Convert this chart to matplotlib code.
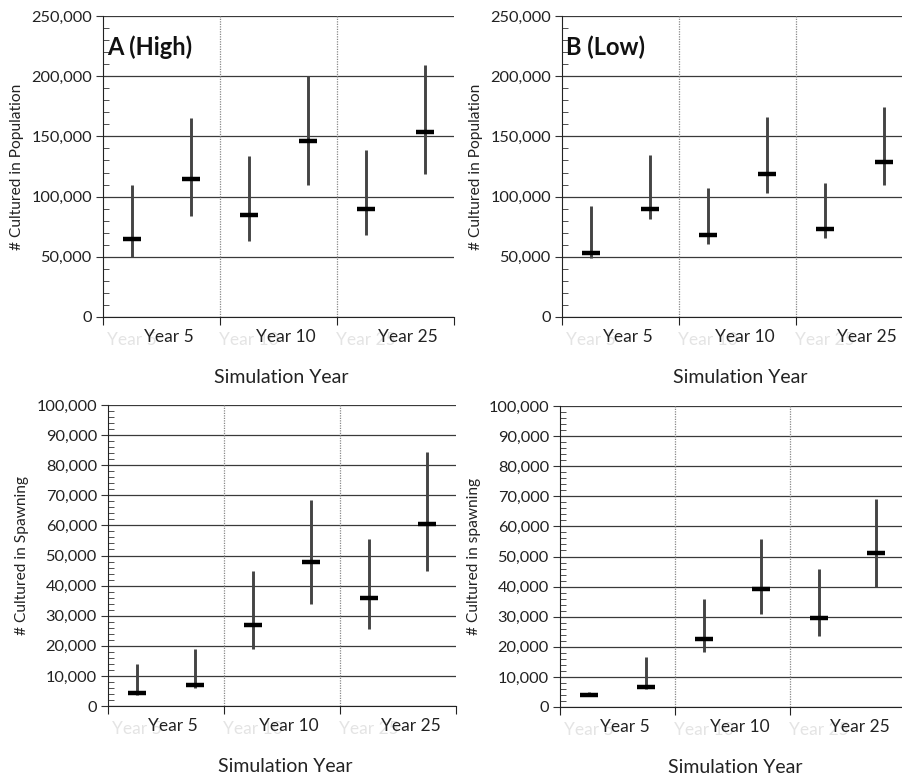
import matplotlib
matplotlib.use("Agg")
import matplotlib.pyplot as plt
from matplotlib.ticker import MultipleLocator, FuncFormatter
import matplotlib.transforms as mtransforms

plt.rcParams['font.family'] = ['Lato', 'DejaVu Sans']

groups = ["Year 5", "Year 10", "Year 25"]

# Population, high scenario (low / median / high)
pop_high_lo = [50000, 84000, 63000, 110000, 68000, 119000]
pop_high_med = [65000, 115000, 84500, 146500, 90000, 153500]
pop_high_hi = [110000, 165000, 134000, 200000, 138500, 209500]

# Population, low scenario
pop_low_lo = [49000, 81500, 60500, 103000, 65300, 110000]
pop_low_med = [53000, 90000, 68000, 119000, 73500, 128500]
pop_low_hi = [92000, 134500, 107500, 166000, 111500, 174500]

# Spawning, high scenario
spw_high_lo = [3800, 6100, 19000, 34000, 25700, 45000]
spw_high_med = [4200, 7000, 27000, 47700, 36000, 60400]
spw_high_hi = [14000, 18800, 45000, 68500, 55500, 84500]

# Spawning, low scenario
spw_low_lo = [3500, 6000, 18300, 31000, 23500, 40000]
spw_low_med = [4000, 6800, 22600, 39200, 29700, 51000]
spw_low_hi = [4900, 16500, 35800, 55700, 46000, 69000]

W, H = 902, 776
fig = plt.figure(figsize=(W / 100, H / 100), dpi=100)


def px_axes(left, top, right, bottom):
    return fig.add_axes([left / W, 1 - bottom / H, (right - left) / W, (bottom - top) / H])


def panel(ax, lo, med, hi, ymax, major, minor, ylabel, tag=None):
    x = list(range(len(med)))
    ax.set_xlim(-0.5, 5.5)
    ax.set_ylim(0, ymax)
    ax.yaxis.set_major_locator(MultipleLocator(major))
    ax.yaxis.set_minor_locator(MultipleLocator(minor))
    ax.yaxis.set_major_formatter(FuncFormatter(lambda v, p: f"{int(v):,}"))
    ax.grid(axis='y', which='major', color='#3a3a3a', lw=0.9)
    ax.set_axisbelow(True)
    for s in ('top', 'right'):
        ax.spines[s].set_visible(False)
    ax.spines['left'].set_color('#222222')
    ax.spines['bottom'].set_color('#222222')
    ax.tick_params(axis='y', which='major', direction='out', length=5, labelsize=11.8,
                   color='#333333', labelcolor='#222222', pad=3)
    ax.tick_params(axis='y', which='minor', direction='in', length=4, color='#333333')
    ax.set_xticks([-0.5, 1.5, 3.5, 5.5])
    ax.set_xticklabels([])
    ax.tick_params(axis='x', direction='out', length=6, color='#222222')
    for b in (1.5, 3.5):
        ax.axvline(b, color='#888888', lw=0.9, ls=(0, (1, 1)))
    ax.vlines(x, lo, hi, color='#444444', lw=2.1, zorder=3)
    ax.hlines(med, [v - 0.155 for v in x], [v + 0.155 for v in x], color='black', lw=3.2, zorder=4)
    ax.set_ylabel(ylabel, fontsize=11.2, color='#222222', labelpad=5)
    trans = mtransforms.blended_transform_factory(ax.transData, ax.transAxes)
    for i, g in enumerate(groups):
        ax.text(2 * i, -0.078, g, transform=trans, ha='center', va='center',
                fontsize=12.5, color='#e4e4e4', zorder=1)
        ax.text(2 * i + 0.62 + (0.1 if i == 2 else 0), -0.068, g, transform=trans,
                ha='center', va='center', fontsize=12.5, color='#222222', zorder=2)
    ax.text(2.55, -0.2, "Simulation Year", transform=trans, ha='center', va='center',
            fontsize=14, color='#222222')
    if tag:
        ax.text(0.012, 0.895, tag, transform=ax.transAxes, ha='left', va='center',
                fontsize=17, fontweight='bold', color='#111111')


axA = px_axes(103, 16, 454, 317)
panel(axA, pop_high_lo, pop_high_med, pop_high_hi, 250000, 50000, 10000,
      "# Cultured in Population", "A (High)")

axB = px_axes(562, 16, 913, 317)
panel(axB, pop_low_lo, pop_low_med, pop_low_hi, 250000, 50000, 10000,
      "# Cultured in Population", "B (Low)")

axC = px_axes(108, 405, 456, 706)
panel(axC, spw_high_lo, spw_high_med, spw_high_hi, 100000, 10000, 2000,
      "# Cultured in Spawning")

axD = px_axes(560, 406, 905, 707)
panel(axD, spw_low_lo, spw_low_med, spw_low_hi, 100000, 10000, 2000,
      "# Cultured in spawning")

fig.savefig("out.png", dpi=100)
